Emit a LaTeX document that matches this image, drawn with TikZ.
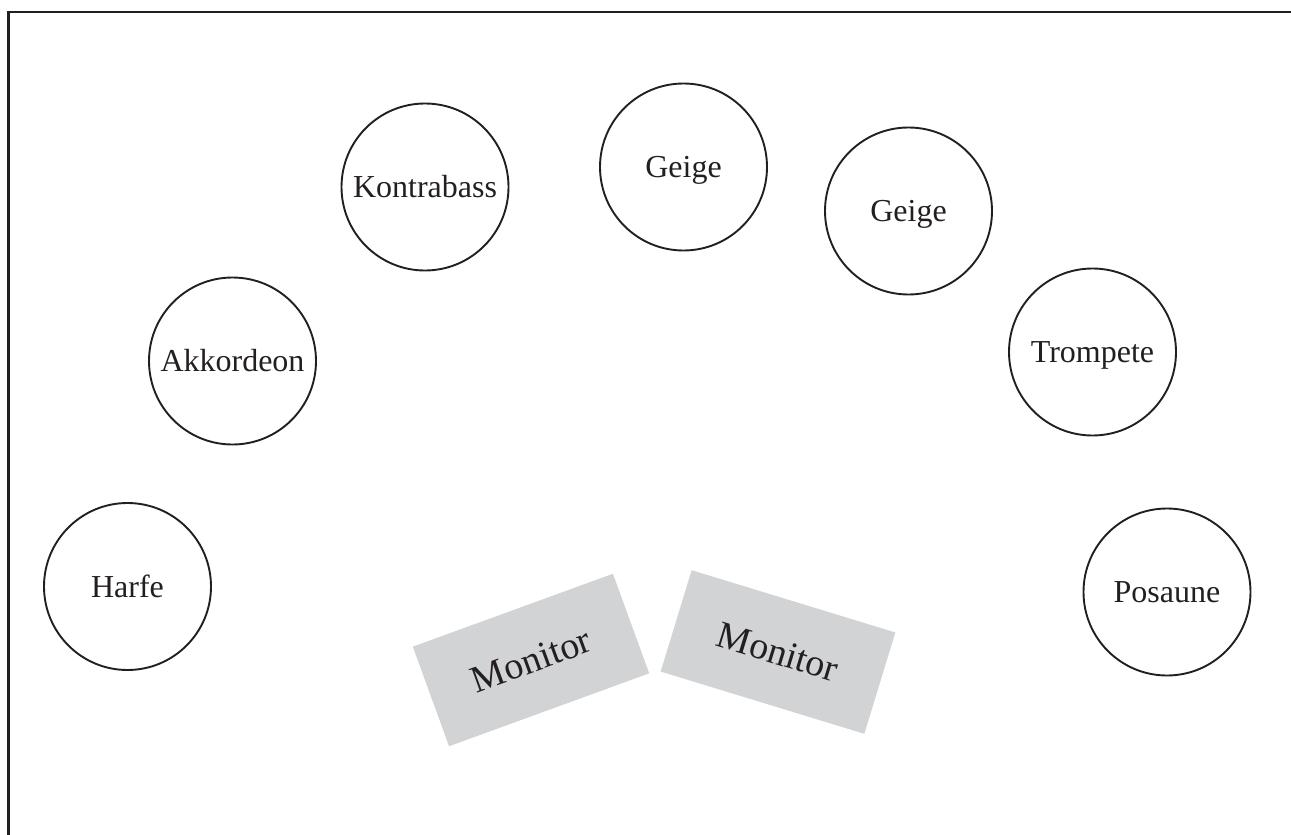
\documentclass[tikz,border=0pt]{standalone}
\usepackage{fontspec}
\setmainfont{Liberation Serif}
\definecolor{ink}{HTML}{231F20}
\definecolor{mon}{HTML}{D1D3D4}
\begin{document}
\begin{tikzpicture}[x=1pt,y=-1pt,
  inst/.style={circle,draw=ink,line width=1.9pt,minimum size=167pt,inner sep=0pt,text=ink,text height=21pt,text depth=0pt,font=\fontsize{32}{38}\selectfont},
  monbox/.style={rectangle,fill=mon,minimum width=213pt,minimum height=106pt,inner sep=0pt,text=ink,text height=25pt,text depth=0pt,font=\fontsize{38}{45}\selectfont}]
\useasboundingbox (0,0) rectangle (1291,835);
\coordinate (fl) at (8.5,835);
\coordinate (ft) at (8.5,12);
\coordinate (fr) at (1291,12);
\draw[ink,line width=2.5pt] (fl) -- (ft) -- (fr);
\node[inst] (kontra) at (425,187) {Kontrabass};
\node[inst] (geige1) at (683.5,167) {Geige};
\node[inst] (geige2) at (908.5,211) {Geige};
\node[inst] (akk) at (232.5,361) {Akkordeon};
\node[inst] (trom) at (1092.5,352) {Trompete};
\node[inst] (harfe) at (127.5,586.5) {Harfe};
\node[inst] (pos) at (1167,592) {Posaune};
\node[monbox,rotate=20] (mon1) at (531,660) {Monitor};
\node[monbox,rotate=-17] (mon2) at (778,652) {Monitor};
\end{tikzpicture}
\end{document}
